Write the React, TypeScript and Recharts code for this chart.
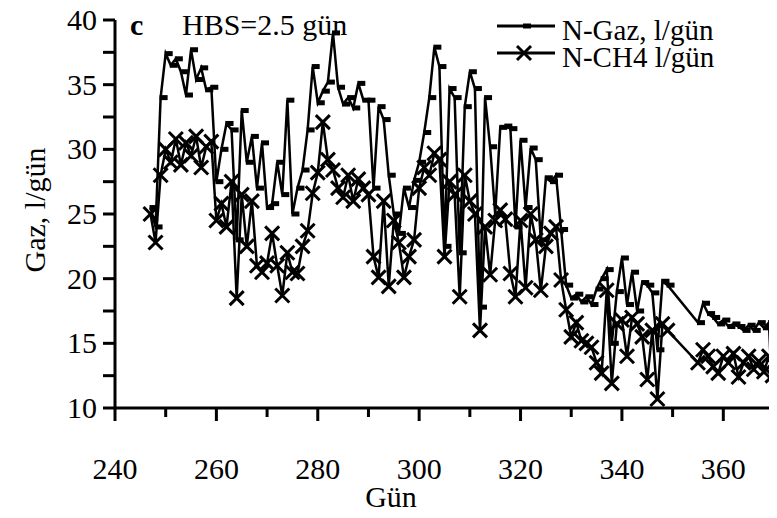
import React from "react";
import { LineChart, Line, XAxis, YAxis } from "recharts";

const days = [
  247, 248, 249, 250, 251, 252, 253, 254, 255, 256, 257, 258, 259, 260, 261, 262, 263, 264, 265, 266,
  267, 268, 269, 270, 271, 272, 273, 274, 275, 276, 277, 278, 279, 280, 281, 282, 283, 284, 285, 286,
  287, 288, 289, 290, 291, 292, 293, 294, 295, 296, 297, 298, 299, 300, 301, 302, 303, 304, 305, 306,
  307, 308, 309, 310, 311, 312, 313, 314, 315, 316, 317, 318, 319, 320, 321, 322, 323, 324, 325, 326,
  327, 328, 329, 330, 331, 332, 333, 334, 335, 336, 337, 338, 339, 340, 341, 342, 343, 344, 345, 346,
  347, 348, 349, 355, 356, 357, 358, 359, 360, 361, 362, 363, 364, 365, 366, 367, 368, 369, 369.7,
];

const gaz = [
  25.5, 24.0, 34.0, 37.4, 36.5, 37.0, 36.0, 34.2, 37.7, 35.4, 36.3, 34.6, 34.8, 27.5, 30.0, 32.0, 31.5, 23.0, 33.0, 29.0,
  31.0, 27.0, 30.5, 25.5, 25.8, 29.0, 26.5, 33.8, 25.0, 27.0, 28.4, 31.5, 36.4, 33.6, 34.5, 35.2, 39.0, 34.8, 33.5, 34.0,
  33.2, 35.1, 33.8, 33.8, 27.0, 33.3, 32.3, 28.0, 25.0, 23.5, 27.0, 25.5, 27.6, 29.0, 31.3, 34.0, 37.9, 36.4, 22.5, 34.7,
  34.0, 22.0, 33.3, 36.0, 34.7, 17.8, 34.0, 30.2, 25.0, 31.7, 31.8, 31.6, 24.0, 30.7, 25.5, 30.1, 29.2, 23.0, 27.8, 27.5,
  28.0, 23.8, 19.5, 18.5, 18.8, 18.2, 18.6, 18.0, 19.2, 20.0, 20.7, 15.0, 19.0, 21.6, 18.0, 20.5, 17.5, 19.7, 19.5, 18.9,
  14.5, 19.8, 19.5, 16.6, 18.1, 17.3, 17.0, 16.5, 16.8, 16.3, 16.5, 16.3, 16.0, 16.4, 16.0, 16.6, 16.2, 16.6, 10.4,
];

const ch4 = [
  25.0, 22.8, 28.0, 30.0, 29.0, 30.8, 28.8, 30.5, 29.5, 31.0, 28.6, 30.2, 30.6, 24.5, 25.8, 24.0, 27.5, 18.5, 26.5, 22.5,
  26.0, 21.0, 20.5, 21.2, 23.5, 21.0, 18.7, 22.0, 20.5, 20.4, 22.5, 23.7, 26.6, 28.2, 32.1, 29.2, 28.4, 27.0, 26.3, 28.0,
  26.0, 27.7, 27.0, 26.5, 21.7, 20.1, 26.0, 19.4, 24.5, 22.8, 20.1, 21.7, 23.0, 27.0, 28.6, 28.0, 29.7, 29.2, 21.7, 27.5,
  26.5, 18.6, 28.0, 26.0, 25.0, 16.0, 24.0, 20.3, 24.5, 25.3, 24.6, 20.4, 18.6, 24.5, 19.3, 25.0, 23.0, 19.1, 22.5, 23.5,
  24.0, 19.9, 17.6, 15.5, 16.6, 15.2, 15.0, 14.7, 13.5, 12.7, 19.1, 11.9, 16.5, 16.8, 14.0, 17.0, 16.5, 15.5, 12.2, 16.0,
  10.7, 16.5, 16.0, 13.5, 14.5, 14.0, 13.2, 12.7, 14.0, 13.5, 14.2, 12.4, 13.5, 14.0, 13.0, 13.6, 12.8, 14.0, 12.5,
];

const xTicks = [240, 250, 260, 270, 280, 290, 300, 310, 320, 330, 340, 350, 360, 370];
const yTicks = [10, 12.5, 15, 17.5, 20, 22.5, 25, 27.5, 30, 32.5, 35, 37.5, 40];

const seriesNames = ["N-Gaz, l/gün", "N-CH4 l/gün"];

const data = days.map((d, i) => ({ day: d, gaz: gaz[i], ch4: ch4[i] }));

const FONT = "'Liberation Serif', 'Times New Roman', serif";

const DashDot = (props: any) => {
  const { cx, cy, index } = props;
  if (cx == null || cy == null) return <g key={`g${index}`} />;
  return <rect key={`g${index}`} x={cx - 1} y={cy - 2.5} width={8} height={5} fill="#000" />;
};

const CrossDot = (props: any) => {
  const { cx, cy, index } = props;
  if (cx == null || cy == null) return <g key={`c${index}`} />;
  const s = 7;
  return (
    <g key={`c${index}`}>
      <line x1={cx - s} y1={cy - s} x2={cx + s} y2={cy + s} stroke="#000" strokeWidth={3} />
      <line x1={cx - s} y1={cy + s} x2={cx + s} y2={cy - s} stroke="#000" strokeWidth={3} />
    </g>
  );
};

const XTick = (props: any) => {
  const { x, y, payload } = props;
  const v = payload.value;
  const major = v % 20 === 0;
  return (
    <g>
      <line x1={x} y1={y} x2={x} y2={y + (major ? 13 : 9)} stroke="#000" strokeWidth={3} />
      {major && v !== 370 ? (
        <text x={x} y={y + 71} textAnchor="middle" fontFamily={FONT} fontSize={30} fill="#000">
          {v}
        </text>
      ) : null}
    </g>
  );
};

const YTick = (props: any) => {
  const { x, y, payload } = props;
  const v = payload.value;
  const major = v % 5 === 0;
  return (
    <g>
      <line x1={x} y1={y} x2={x - 12} y2={y} stroke="#000" strokeWidth={3} />
      {major ? (
        <text x={x - 18} y={y + 10} textAnchor="end" fontFamily={FONT} fontSize={30} fill="#000">
          {v}
        </text>
      ) : null}
    </g>
  );
};

export default function App() {
  return (
    <div style={{ position: "relative", width: 769, height: 510, background: "#fff" }}>
      <LineChart
        width={769}
        height={510}
        data={data}
        margin={{ top: 12, right: 3, left: 0, bottom: 0 }}
      >
        <XAxis
          dataKey="day"
          type="number"
          domain={[240, 370]}
          ticks={xTicks}
          allowDataOverflow
          interval={0}
          height={110}
          tickSize={0}
          tickMargin={0}
          tickLine={false}
          axisLine={{ stroke: "#000", strokeWidth: 3 }}
          tick={<XTick />}
        />
        <YAxis
          type="number"
          domain={[10, 40]}
          ticks={yTicks}
          allowDataOverflow
          interval={0}
          width={107}
          tickSize={0}
          tickMargin={0}
          tickLine={false}
          axisLine={{ stroke: "#000", strokeWidth: 3 }}
          tick={<YTick />}
        />
        <Line
          dataKey="gaz"
          name={seriesNames[0]}
          stroke="#000"
          strokeWidth={2.5}
          dot={DashDot}
          activeDot={false}
          isAnimationActive={false}
        />
        <Line
          dataKey="ch4"
          name={seriesNames[1]}
          stroke="#000"
          strokeWidth={2.5}
          dot={CrossDot}
          activeDot={false}
          isAnimationActive={false}
        />
      </LineChart>
      <svg
        width={769}
        height={510}
        style={{ position: "absolute", left: 0, top: 0, pointerEvents: "none" }}
      >
        <text x={122} y={27} fontFamily={FONT} fontSize={30} fontWeight="bold" fill="#000">c</text>
        <text x={174} y={27} fontFamily={FONT} fontSize={30} fill="#000">HBS=2.5 gün</text>
        <line x1={489} y1={18} x2={547} y2={18} stroke="#000" strokeWidth={3} />
        <rect x={515} y={15.5} width={8} height={5} fill="#000" />
        <text x={554} y={32} fontFamily={FONT} fontSize={29} fill="#000">{seriesNames[0]}</text>
        <line x1={489} y1={45} x2={547} y2={45} stroke="#000" strokeWidth={3} />
        <line x1={509} y1={38} x2={523} y2={52} stroke="#000" strokeWidth={3} />
        <line x1={509} y1={52} x2={523} y2={38} stroke="#000" strokeWidth={3} />
        <text x={554} y={59} fontFamily={FONT} fontSize={29} fill="#000">{seriesNames[1]}</text>
        <text
          x={37}
          y={202}
          transform="rotate(-90 37 202)"
          textAnchor="middle"
          fontFamily={FONT}
          fontSize={30}
          fill="#000"
        >
          Gaz, l/gün
        </text>
        <text x={383} y={499} textAnchor="middle" fontFamily={FONT} fontSize={30} fill="#000">Gün</text>
      </svg>
    </div>
  );
}
